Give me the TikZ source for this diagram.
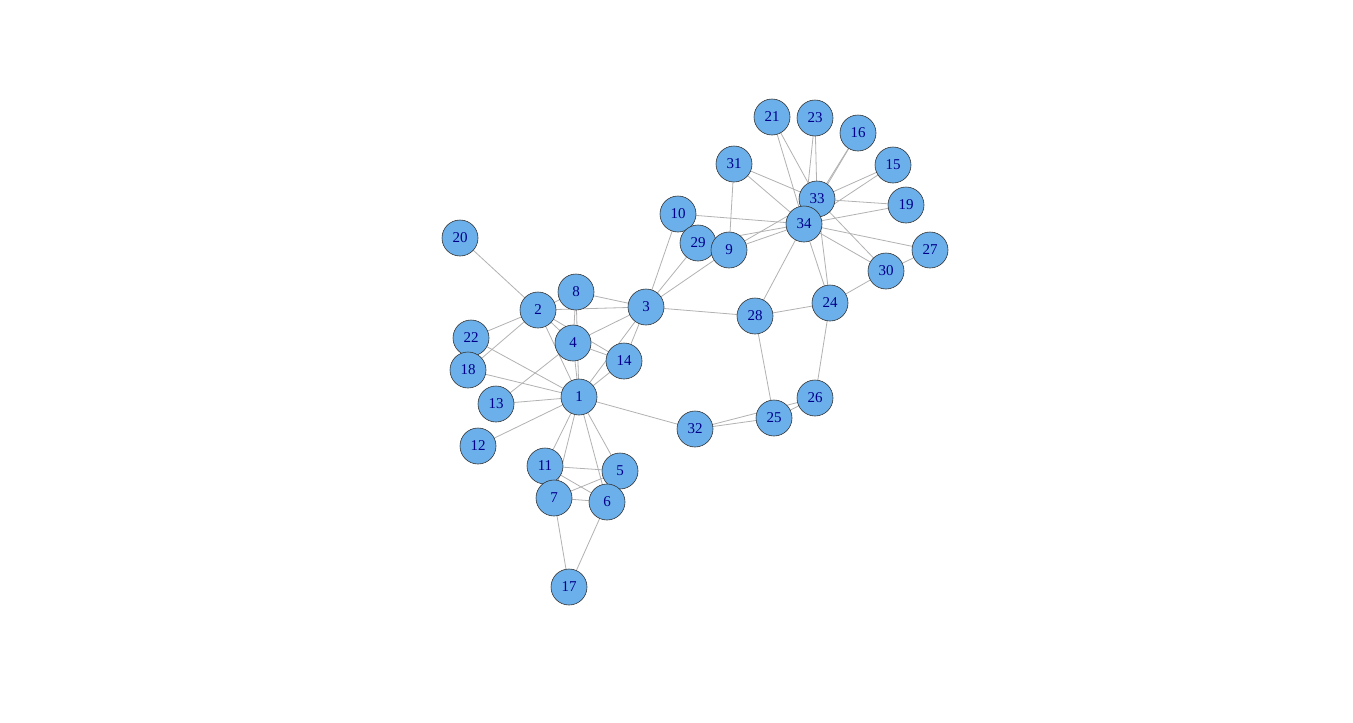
\documentclass[tikz,border=0pt]{standalone}
\usepackage{fontspec}
\setmainfont{Liberation Serif}
\usetikzlibrary{backgrounds}
\definecolor{vfill}{RGB}{107,176,234}
\definecolor{vlabel}{RGB}{0,0,139}
\definecolor{edgecol}{RGB}{178,178,178}
\tikzset{
  vtx/.style={circle,draw=black!80,line width=0.6pt,fill=vfill,minimum size=36pt,inner sep=0pt,
    text=vlabel,font=\fontsize{15}{15}\selectfont},
  edg/.style={draw=edgecol,line width=0.8pt}
}
\begin{document}
\begin{tikzpicture}[x=1pt,y=-1pt]
\useasboundingbox (0,0) rectangle (1353,723);
\node[vtx] (n1) at (579,397) {1};
\node[vtx] (n2) at (538,310) {2};
\node[vtx] (n3) at (646,307) {3};
\node[vtx] (n4) at (573,343) {4};
\node[vtx] (n5) at (620,471) {5};
\node[vtx] (n6) at (607,502) {6};
\node[vtx] (n11) at (545,466) {11};
\node[vtx] (n7) at (554,498) {7};
\node[vtx] (n8) at (576,292) {8};
\node[vtx] (n10) at (678,214) {10};
\node[vtx] (n29) at (698,243) {29};
\node[vtx] (n9) at (729,250) {9};
\node[vtx] (n12) at (478,446) {12};
\node[vtx] (n13) at (496,404) {13};
\node[vtx] (n14) at (624,361) {14};
\node[vtx] (n15) at (893,165) {15};
\node[vtx] (n16) at (858,133) {16};
\node[vtx] (n17) at (569,587) {17};
\node[vtx] (n22) at (471,338) {22};
\node[vtx] (n18) at (468,370) {18};
\node[vtx] (n19) at (906,205) {19};
\node[vtx] (n20) at (460,238) {20};
\node[vtx] (n21) at (772,117) {21};
\node[vtx] (n23) at (815,118) {23};
\node[vtx] (n24) at (830,303) {24};
\node[vtx] (n25) at (774,418) {25};
\node[vtx] (n26) at (815,398) {26};
\node[vtx] (n27) at (930,250) {27};
\node[vtx] (n28) at (755,316) {28};
\node[vtx] (n30) at (886,271) {30};
\node[vtx] (n31) at (734,164) {31};
\node[vtx] (n32) at (695,429) {32};
\node[vtx] (n33) at (817,199) {33};
\node[vtx] (n34) at (804,224) {34};
\begin{pgfonlayer}{background}
\fill[white] (0,0) rectangle (1353,723);
\foreach \a/\b in {1/2,1/3,1/4,1/5,1/6,1/7,1/8,1/11,1/12,1/13,1/14,1/18,1/22,1/32,
  2/3,2/4,2/8,2/14,2/18,2/20,2/22,
  3/4,3/8,3/9,3/10,3/14,3/28,3/29,
  4/8,4/13,4/14,
  5/7,5/11,6/7,6/11,6/17,7/17,
  9/31,9/33,9/34,10/34,
  15/33,15/34,16/33,16/34,19/33,19/34,21/33,21/34,23/33,23/34,
  24/26,24/28,24/30,24/33,24/34,
  25/26,25/28,25/32,26/32,27/30,27/34,28/34,29/34,
  30/33,30/34,31/33,31/34,33/34}
  \draw[edg] (n\a.center) -- (n\b.center);
\end{pgfonlayer}
\end{tikzpicture}
\end{document}
